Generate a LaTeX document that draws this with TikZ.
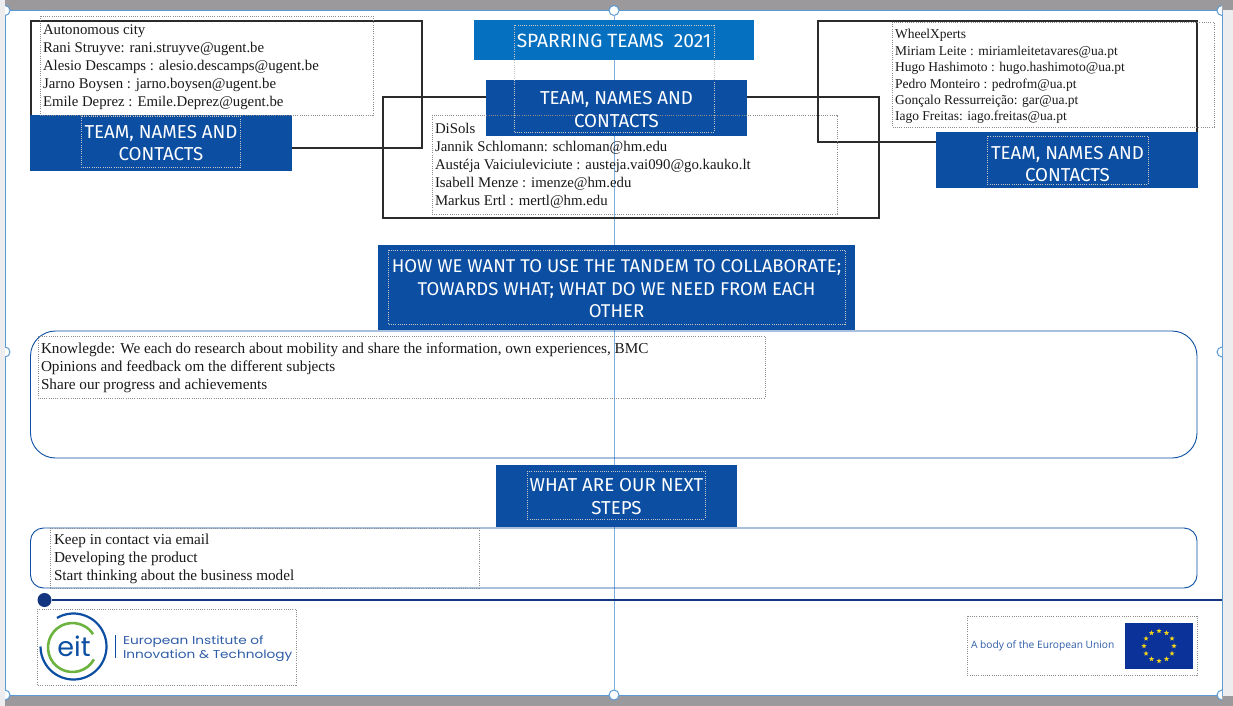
\documentclass[tikz,border=0pt]{standalone}
\usepackage{fontspec}
\usetikzlibrary{shapes.geometric}
\setmainfont{Liberation Serif}
\newfontfamily\headfont{Fira Sans}
\newfontfamily\logofont[FakeStretch=1.2]{Poppins}
\newfontfamily\eitfont{Poppins}
\newfontfamily\eufont{Open Sans}
\definecolor{bandgrey}{HTML}{9B999C}
\definecolor{sidegrey}{HTML}{EDEDF0}
\definecolor{guide}{HTML}{5B9BD5}
\definecolor{teamblue}{HTML}{0B4EA2}
\definecolor{titleblue}{HTML}{0570C0}
\definecolor{rulecol}{HTML}{14357F}
\definecolor{inkblack}{HTML}{2B2B2B}
\definecolor{eitgreen}{HTML}{6DB33F}
\definecolor{flagblue}{HTML}{0A3299}
\definecolor{logotext}{HTML}{2F5DA8}
\definecolor{stary}{HTML}{F2D21B}
\tikzset{
  x=1pt,y=-1pt,
  every node/.style={inner sep=0pt,outer sep=0pt},
  blk/.style={draw=inkblack,line width=1.6pt,fill=none},
  dotbox/.style={draw=black!45,line width=0.55pt,dash pattern=on 1pt off 1.2pt,fill=none},
  dotlight/.style={draw=white!55!gray,line width=0.55pt,dash pattern=on 1pt off 1.2pt,fill=none},
  handle/.style={circle,draw=guide,fill=white,line width=1pt,minimum size=10pt},
  body/.style={anchor=north west,align=left,font=\fontsize{14.8}{18.1}\selectfont,text=black!90},
  widebody/.style={anchor=north west,align=left,font=\fontsize{15.2}{18.1}\selectfont,text=black!90},
  smallbody/.style={anchor=north west,align=left,font=\fontsize{13.5}{16.4}\selectfont,text=black!90},
  head/.style={align=center,text=white,font=\headfont\fontsize{18.7}{22.5}\selectfont},
  panel/.style={draw=teamblue,line width=0.9pt,fill=none},
  eustar/.style={star,star points=5,star point ratio=2.4,fill=stary,minimum size=5.4pt},
}
\begin{document}
\begin{tikzpicture}
\useasboundingbox (0,0) rectangle (1233,706);
\fill[white] (0,0) rectangle (1233,706);
% page chrome
\fill[sidegrey] (0,0) rectangle (5,706);
\fill[sidegrey] (1222,0) rectangle (1233,706);
\fill[bandgrey] (5,0) rectangle (1233,10);
\fill[bandgrey] (5,696) rectangle (1233,706);
\draw[guide,line width=0.9pt] (5,10.5) rectangle (1222,695);
\node[handle] (htop) at (614,10.5) {};
\node[handle] (hbot) at (614,695) {};
\draw[guide!80,line width=1pt] (htop) -- (hbot);
\begin{scope}
\clip (5,0) rectangle (1222,706);
\node[handle] (htl) at (5,10.5) {};
\node[handle] (htr) at (1222,10.5) {};
\node[handle] (hbl) at (5,695) {};
\node[handle] (hbr) at (1222,695) {};
\node[handle] (hml) at (5,352) {};
\node[handle] (hmr) at (1222,352) {};
\end{scope}
% rounded panels
\draw[panel,rounded corners=25pt] (30.5,331) rectangle (1197,458);
\draw[panel,rounded corners=13pt] (30.5,528) rectangle (1197,588);
% black frames
\draw[blk] (31,21) rectangle (422,148);
\draw[blk] (383,97) rectangle (879,218);
\draw[blk] (818,21) rectangle (1197,142);
% dark header boxes
\fill[titleblue] (474,20) rectangle (754,60);
\fill[teamblue] (30,115) rectangle (291.5,170.5);
\fill[teamblue] (486,80) rectangle (747,135.5);
\fill[teamblue] (936,132) rectangle (1198,188);
\fill[teamblue] (378,245) rectangle (855,330);
\fill[teamblue] (496,465) rectangle (737,527);
% dotted text frames
\draw[dotbox] (40,16) rectangle (373,115);
\draw[dotbox] (432,115) rectangle (837,214);
\draw[dotbox] (892,22) rectangle (1214,127);
\draw[dotbox] (38,336) rectangle (765,398);
\draw[dotbox] (50,528) rectangle (479,588);
\draw[dotbox] (37,609) rectangle (296,685);
\draw[dotbox] (967,616) rectangle (1197,675);
\draw[dotlight] (81,116) rectangle (240,167);
\draw[dotlight] (514,25) rectangle (714,132);
\draw[dotlight] (987,136) rectangle (1148,184);
\draw[dotlight] (388,250) rectangle (845,324);
\draw[dotlight] (527,471) rectangle (705,519);
% headings
\node[head,font=\headfont\fontsize{19.2}{22.5}\selectfont] (title) at (614,40.5) {SPARRING TEAMS\ \ 2021};
\node[head] (teamA) at (161,143) {TEAM, NAMES AND\\CONTACTS};
\node[head] (teamB) at (616.5,109.5) {TEAM, NAMES AND\\CONTACTS};
\node[head] (teamC) at (1067.5,164) {TEAM, NAMES AND\\CONTACTS};
\node[head,font=\headfont\fontsize{18.5}{22.5}\selectfont] (how) at (616.5,289) {HOW WE WANT TO USE THE TANDEM TO COLLABORATE;\\TOWARDS WHAT; WHAT DO WE NEED FROM EACH\\OTHER};
\node[head] (next) at (616.5,496.5) {WHAT ARE OUR NEXT\\STEPS};
% body text
\node[body] (auto) at (43,24.5) {Autonomous city\\Rani Struyve: rani.struyve@ugent.be\\Alesio Descamps : alesio.descamps@ugent.be\\Jarno Boysen : jarno.boysen@ugent.be\\Emile Deprez : Emile.Deprez@ugent.be};
\node[body] (disols) at (435,123) {DiSols\\Jannik Schlomann: schloman@hm.edu\\Austéja Vaiciuleviciute : austeja.vai090@go.kauko.lt\\Isabell Menze : imenze@hm.edu\\Markus Ertl : mertl@hm.edu};
\node[smallbody] (wheel) at (895,29.5) {WheelXperts\\Miriam Leite : miriamleitetavares@ua.pt\\Hugo Hashimoto : hugo.hashimoto@ua.pt\\Pedro Monteiro : pedrofm@ua.pt\\Gonçalo Ressurreição: gar@ua.pt\\Iago Freitas: iago.freitas@ua.pt};
\node[widebody] (know) at (41,343) {Knowlegde: We each do research about mobility and share the information, own experiences, BMC\\Opinions and feedback om the different subjects\\Share our progress and achievements};
\node[widebody] (steps) at (54,534) {Keep in contact via email\\Developing the product\\Start thinking about the business model};
% footer rule
\coordinate (ruleend) at (1222,600);
\node[circle,fill=rulecol,minimum size=14pt] (ruledot) at (44.5,600) {};
\draw[rulecol,line width=1.8pt] (ruledot) -- (ruleend);
% EIT logo
\draw[teamblue,line width=2.2pt] ([shift={(240:33)}]73.5,646.5) arc[start angle=240,end angle=540,radius=33];
\draw[eitgreen,line width=2.6pt] ([shift={(29:24.5)}]72.5,647.5) arc[start angle=29,end angle=327,radius=24.5];
\node[text=teamblue,font=\eitfont\fontsize{27}{27}\selectfont] (eit) at (74,646) {eit};
\draw[teamblue,line width=0.8pt] (115.5,635) -- (115.5,658);
\node[anchor=west,text=logotext,font=\logofont\fontsize{11.4}{14}\selectfont,align=left] (eitname) at (123,648.5) {European Institute of\\Innovation \& Technology};
% EU emblem
\node[anchor=west,text=logotext,font=\eufont\fontsize{10.2}{12}\selectfont] (eubody) at (971,646) {A body of the European Union};
\fill[flagblue] (1125,623) rectangle (1193,669);
\foreach \a [count=\i] in {0,30,...,330}
  \node[eustar] (s\i) at ([shift={(\a:15)}]1159,646) {};
\end{tikzpicture}
\end{document}
